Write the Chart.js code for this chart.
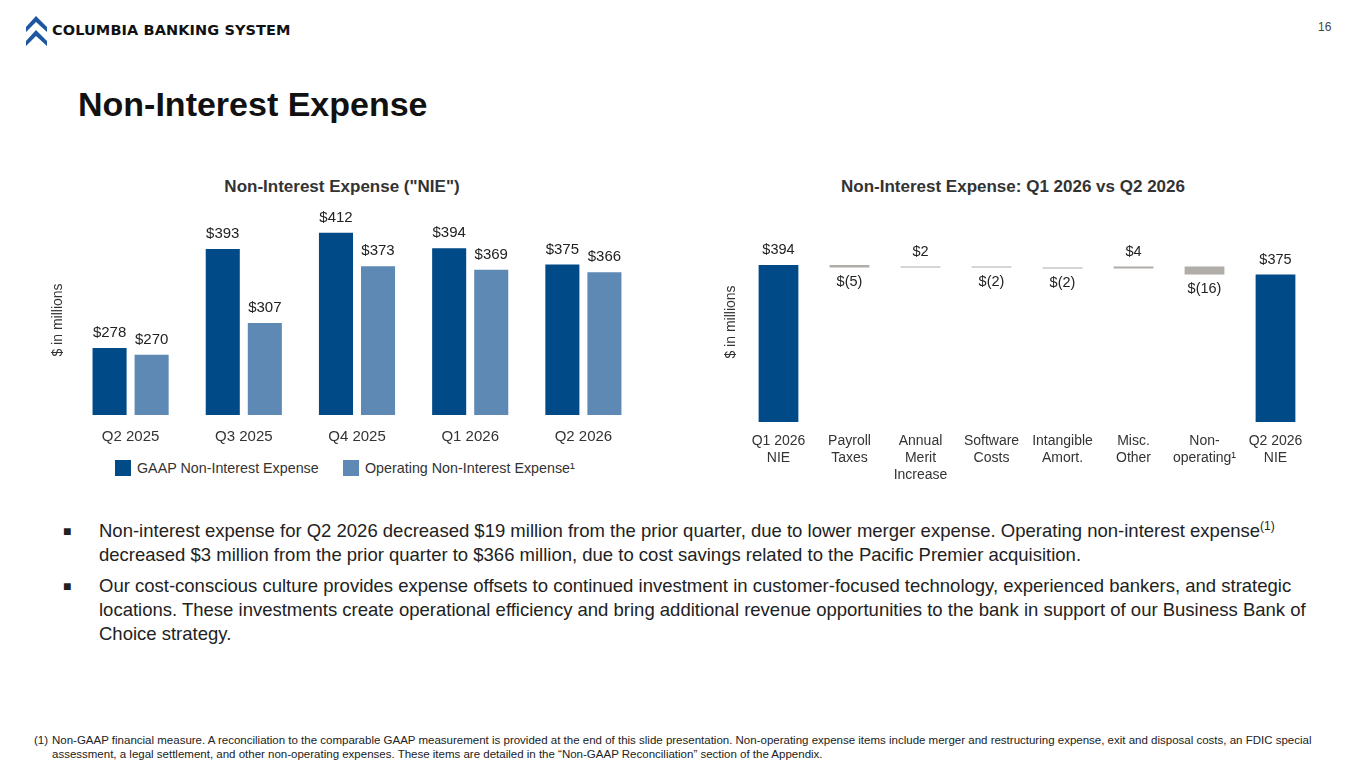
<!DOCTYPE html>
<html>
<head>
<meta charset="utf-8">
<script src="https://cdn.jsdelivr.net/npm/chart.js@4"></script>
<style>
  body { margin: 0; width: 1365px; height: 768px; background: #fff; font-family: "Liberation Sans", Arial, sans-serif; position: relative; overflow: hidden; }
  .abs { position: absolute; }
  #logoText { left: 52px; top: 22px; font-family: "DejaVu Sans", sans-serif; font-weight: bold; font-size: 14.5px; color: #111; letter-spacing: 0.1px; }
  #pageNo { left: 1318px; top: 20px; font-size: 12px; color: #444; }
  #mainTitle { left: 78px; top: 85px; font-size: 34px; font-weight: bold; color: #111; }
  .ctitle { top: 177px; font-size: 17px; font-weight: bold; color: #333; text-align: center; }
  .legend { top: 460px; font-size: 14.3px; color: #333; line-height: 16px; }
  .legend i { position: absolute; left: 0; top: 0; width: 16px; height: 16px; }
  .legend span { position: absolute; left: 22px; top: 0; white-space: nowrap; }
  .bullets { left: 63px; top: 519px; width: 1260px; font-size: 18.5px; line-height: 24px; color: #222; }
  .bullets div { position: relative; padding-left: 36px; margin-bottom: 7px; }
  .bullets div span.b { position: absolute; left: 0; top: 0; font-size: 14px; }
  sup { font-size: 12px; vertical-align: 7px; line-height: 0; }
  #foot { left: 34px; top: 733px; width: 1290px; font-size: 11.5px; line-height: 14px; color: #222; }
  #foot div { position: relative; padding-left: 18px; }
  #foot span { position: absolute; left: 0; }
</style>
</head>
<body>
<svg class="abs" style="left:24px;top:15px" width="26" height="32" viewBox="0 0 26 32">
  <polygon points="12,1 23,12 23,17 12,7 2,17 2,12" fill="#1f56a0"/>
  <polygon points="12,15 23,26 23,31 12,21 2,31 2,26" fill="#1f56a0"/>
</svg>
<div class="abs" id="logoText">COLUMBIA BANKING SYSTEM</div>
<div class="abs" id="pageNo">16</div>
<div class="abs" id="mainTitle">Non-Interest Expense</div>

<div class="abs ctitle" style="left:142px;width:400px;">Non-Interest Expense ("NIE")</div>
<div class="abs ctitle" style="left:813px;width:400px;">Non-Interest Expense: Q1 2026 vs Q2 2026</div>

<div class="abs" style="left:44px;top:205px;width:596px;height:244px;"><canvas id="nieChart"></canvas></div>
<div class="abs legend" id="legGaap" style="left:115px;"><i></i><span></span></div>
<div class="abs legend" id="legOper" style="left:343px;"><i></i><span></span></div>

<div class="abs" style="left:720px;top:222px;width:591px;height:270px;"><canvas id="bridgeChart"></canvas></div>

<div class="abs bullets">
  <div><span class="b">■</span>Non-interest expense for Q2 2026 decreased $19 million from the prior quarter, due to lower merger expense. Operating non-interest expense<sup>(1)</sup> decreased $3 million from the prior quarter to $366 million, due to cost savings related to the Pacific Premier acquisition.</div>
  <div><span class="b">■</span>Our cost-conscious culture provides expense offsets to continued investment in customer-focused technology, experienced bankers, and strategic locations. These investments create operational efficiency and bring additional revenue opportunities to the bank in support of our Business Bank of Choice strategy.</div>
</div>

<div class="abs" id="foot">
  <div><span>(1)</span>Non-GAAP financial measure. A reconciliation to the comparable GAAP measurement is provided at the end of this slide presentation. Non-operating expense items include merger and restructuring expense, exit and disposal costs, an FDIC special assessment, a legal settlement, and other non-operating expenses. These items are detailed in the “Non-GAAP Reconciliation” section of the Appendix.</div>
</div>

<script>
// left chart data
const quarters = ['Q2 2025', 'Q3 2025', 'Q4 2025', 'Q1 2026', 'Q2 2026'];
const gaapNie = [278, 393, 412, 394, 375];
const operatingNie = [270, 307, 373, 369, 366];

// right chart data (waterfall)
const bridgeLabels = [['Q1 2026', 'NIE'], ['Payroll', 'Taxes'], ['Annual', 'Merit', 'Increase'], ['Software', 'Costs'], ['Intangible', 'Amort.'], ['Misc.', 'Other'], ['Non-', 'operating¹'], ['Q2 2026', 'NIE']];
const startNie = 394;
const bridgeChanges = [-5, 2, -2, -2, 4, -16];
const endNie = 375;

const darkBlue = '#004a87';
const lightBlue = '#5e89b4';
const grey = '#b0aca8';
const fontFamily = '"Liberation Sans", Arial, sans-serif';

const money = v => v < 0 ? '$(' + Math.abs(v) + ')' : '$' + v;

// value labels drawn over the bars
const valueLabels = {
  id: 'valueLabels',
  afterDatasetsDraw(chart, args, opts) {
    const ctx = chart.ctx;
    ctx.save();
    ctx.font = opts.size + 'px ' + fontFamily;
    ctx.fillStyle = '#222';
    ctx.textAlign = 'center';
    ctx.textBaseline = 'middle';
    chart.data.datasets.forEach((ds, i) => {
      chart.getDatasetMeta(i).data.forEach((bar, j) => {
        const txt = ds.labels ? ds.labels[j] : money(ds.data[j]);
        const top = Math.min(bar.y, bar.base);
        const bottom = Math.max(bar.y, bar.base);
        if (ds.down && ds.down[j]) {
          ctx.fillText(txt, bar.x, bottom + 14);
        } else {
          ctx.fillText(txt, bar.x, top - 15);
        }
      });
    });
    ctx.restore();
  }
};

const nieChart = new Chart(document.getElementById('nieChart'), {
  type: 'bar',
  data: {
    labels: quarters,
    datasets: [
      { label: 'GAAP Non-Interest Expense', data: gaapNie, backgroundColor: darkBlue },
      { label: 'Operating Non-Interest Expense¹', data: operatingNie, backgroundColor: lightBlue }
    ]
  },
  options: {
    responsive: true,
    maintainAspectRatio: false,
    animation: false,
    datasets: { bar: { categoryPercentage: 0.743, barPercentage: 0.81 } },
    layout: { padding: { top: 20, left: 6 } },
    plugins: {
      tooltip: { enabled: false },
      valueLabels: { size: 15 },
      legend: { display: false }
    },
    scales: {
      x: {
        grid: { display: false },
        border: { display: false },
        ticks: { color: '#333', font: { family: fontFamily, size: 15 }, padding: 5 },
        afterFit(scale) { scale.height = 34; }
      },
      y: {
        min: 200,
        max: 421,
        grid: { display: false },
        border: { display: false },
        ticks: { display: false },
        title: { display: true, text: '$ in millions', color: '#333', font: { family: fontFamily, size: 14 }, padding: 0 },
        afterFit(scale) { scale.width = 24; }
      }
    }
  },
  plugins: [valueLabels]
});

// legend boxes filled from the chart's own datasets
[['legGaap', 0], ['legOper', 1]].forEach(([id, i]) => {
  const el = document.getElementById(id);
  el.querySelector('i').style.background = nieChart.data.datasets[i].backgroundColor;
  el.querySelector('span').textContent = nieChart.data.datasets[i].label;
});

// running totals for the bridge
const bridgeRanges = [[0, startNie]];
const bridgeText = [money(startNie)];
const bridgeDown = [false];
let running = startNie;
bridgeChanges.forEach(c => {
  bridgeRanges.push([running, running + c]);
  bridgeText.push(money(c));
  bridgeDown.push(c < 0);
  running += c;
});
bridgeRanges.push([0, endNie]);
bridgeText.push(money(endNie));
bridgeDown.push(false);
const bridgeColors = bridgeRanges.map((r, i) => (i === 0 || i === bridgeRanges.length - 1) ? darkBlue : grey);

new Chart(document.getElementById('bridgeChart'), {
  type: 'bar',
  data: {
    labels: bridgeLabels,
    datasets: [{
      data: bridgeRanges,
      labels: bridgeText,
      down: bridgeDown,
      backgroundColor: bridgeColors,
      categoryPercentage: 0.8,
      barPercentage: 0.7,
      minBarLength: 1
    }]
  },
  options: {
    responsive: true,
    maintainAspectRatio: false,
    animation: false,
    layout: { padding: { left: 3 } },
    plugins: { tooltip: { enabled: false }, legend: { display: false }, valueLabels: { size: 14.5 } },
    scales: {
      x: {
        grid: { display: false },
        border: { display: false },
        ticks: { color: '#333', font: { family: fontFamily, size: 14 }, padding: 3, maxRotation: 0, autoSkip: false },
        afterFit(scale) { scale.height = 70; }
      },
      y: {
        min: 80,
        max: 480,
        grid: { display: false },
        border: { display: false },
        ticks: { display: false },
        title: { display: true, text: '$ in millions', color: '#333', font: { family: fontFamily, size: 14 }, padding: 0 },
        afterFit(scale) { scale.width = 20; }
      }
    }
  },
  plugins: [valueLabels]
});
</script>
</body>
</html>
